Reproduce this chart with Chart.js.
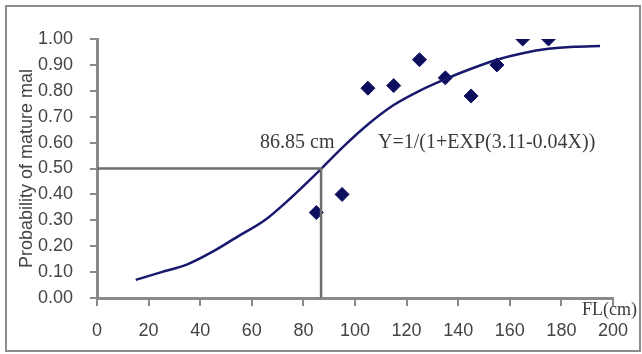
<!DOCTYPE html>
<html>
<head>
<meta charset="utf-8">
<script src="https://cdn.jsdelivr.net/npm/chart.js@4.4.1/dist/chart.umd.min.js"></script>
<style>
  body { margin: 0; background: #fff; }
  #wrap { position: relative; width: 642px; height: 354px; }
  #frame { position: absolute; left: 5px; top: 5px; width: 632px; height: 343px; border: 2px solid #8c8c8c; pointer-events: none; }
</style>
</head>
<body>
<div id="wrap">
  <canvas id="chart" width="642" height="354"></canvas>
  <div id="frame"></div>
</div>
<script>
// observed maturity by fork length
const lengthFL = [85, 95, 105, 115, 125, 135, 145, 155, 165, 175];
const matureProb = [0.33, 0.40, 0.81, 0.82, 0.92, 0.85, 0.78, 0.90, 1.00, 1.00];

// fitted logistic curve
const fitFL = [15, 25, 35, 45, 55, 65, 75, 85, 95, 105, 115, 125, 135, 145, 155, 165, 175, 185, 195];
const fitProb = [0.07, 0.10, 0.13, 0.18, 0.24, 0.30, 0.385, 0.48, 0.58, 0.67, 0.745, 0.80, 0.845, 0.885, 0.92, 0.945, 0.962, 0.97, 0.973];

// L50 cutoff
const cutoffFL = 86.85;
const cutoffProb = 0.50;

const xTicks = [0, 20, 40, 60, 80, 100, 120, 140, 160, 180, 200];
const yTicks = [0, 0.1, 0.2, 0.3, 0.4, 0.5, 0.6, 0.7, 0.8, 0.9, 1.0];

const cutoffLabel = '86.85 cm';
const equationLabel = 'Y=1/(1+EXP(3.11-0.04X))';
const xTitle = 'FL(cm)';
const yTitle = 'Probability of mature mal';

const textPlugin = {
    id: 'textPlugin',
    afterDatasetsDraw(chart) {
        const ctx = chart.ctx;
        ctx.save();
        ctx.fillStyle = '#3a3a3a';
        ctx.textBaseline = 'middle';
        ctx.textAlign = 'left';
        ctx.font = '20px "Liberation Serif"';
        ctx.fillText(cutoffLabel, 260, 143);
        ctx.fillText(equationLabel, 378, 143);
        ctx.font = '18px "Liberation Serif"';
        ctx.fillText(xTitle, 582, 310);
        ctx.restore();
    }
};

const ctx = document.getElementById('chart').getContext('2d');
new Chart(ctx, {
    type: 'scatter',
    data: {
        datasets: [
            {
                label: 'cutoff',
                type: 'line',
                data: [{ x: 0, y: cutoffProb }, { x: cutoffFL, y: cutoffProb }, { x: cutoffFL, y: 0 }],
                borderColor: '#6e6e6e',
                borderWidth: 2.5,
                pointRadius: 0,
                fill: false
            },
            {
                label: 'fit',
                type: 'line',
                data: fitFL.map((x, i) => ({ x: x, y: fitProb[i] })),
                borderColor: '#18186e',
                borderWidth: 2.5,
                pointRadius: 0,
                cubicInterpolationMode: 'monotone',
                fill: false
            },
            {
                label: 'observed',
                data: lengthFL.map((x, i) => ({ x: x, y: matureProb[i] })),
                pointStyle: 'rectRot',
                pointRadius: 7,
                backgroundColor: '#0e0e5e',
                borderColor: '#0e0e5e'
            }
        ]
    },
    options: {
        responsive: false,
        animation: false,
        layout: { padding: { left: 0, top: 39, right: 24, bottom: 0 } },
        plugins: {
            legend: { display: false },
            tooltip: { enabled: false }
        },
        scales: {
            x: {
                type: 'linear',
                min: 0,
                max: 200,
                afterFit: (s) => { s.height = 56; },
                afterBuildTicks: (s) => { s.ticks = xTicks.map(v => ({ value: v })); },
                border: { color: '#8a8a8a', width: 3 },
                grid: { drawOnChartArea: false, tickLength: 8, color: '#8a8a8a', lineWidth: 2 },
                ticks: {
                    padding: 14,
                    maxRotation: 0,
                    color: '#444',
                    font: { family: 'Liberation Sans', size: 18 }
                }
            },
            y: {
                type: 'linear',
                min: 0,
                max: 1,
                afterFit: (s) => { s.width = 97; },
                afterBuildTicks: (s) => { s.ticks = yTicks.map(v => ({ value: v })); },
                border: { color: '#8a8a8a', width: 3 },
                grid: { drawOnChartArea: false, tickLength: 7, color: '#8a8a8a', lineWidth: 2 },
                title: {
                    display: true,
                    text: yTitle,
                    color: '#444',
                    font: { family: 'Liberation Sans', size: 18 },
                    padding: { top: 16, bottom: 0 }
                },
                ticks: {
                    padding: 17,
                    color: '#444',
                    font: { family: 'Liberation Sans', size: 18 },
                    callback: (v) => v.toFixed(2)
                }
            }
        }
    },
    plugins: [textPlugin]
});
</script>
</body>
</html>
